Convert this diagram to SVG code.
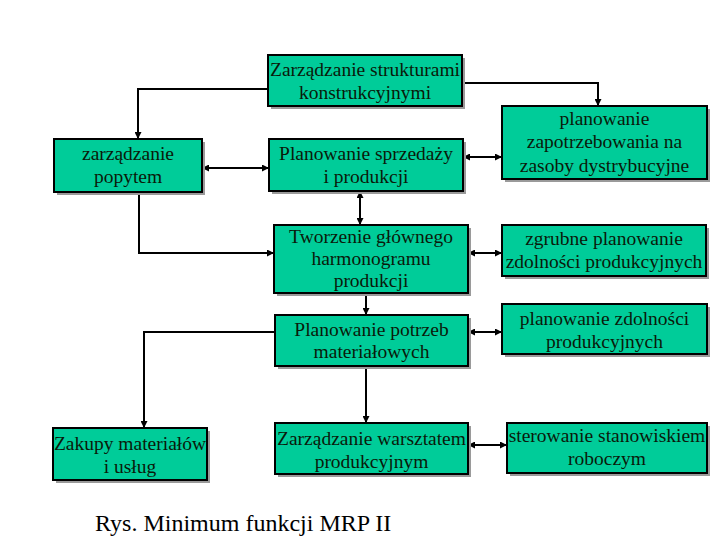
<svg xmlns="http://www.w3.org/2000/svg" width="720" height="540" viewBox="0 0 720 540">
<defs>
<marker id="ah" viewBox="0 0 10 10" refX="10" refY="5" markerWidth="3.5" markerHeight="3.5" orient="auto-start-reverse" markerUnits="strokeWidth">
<path d="M0,0 L10,5 L0,10 z" fill="#000"/>
</marker>
<filter id="sh" x="-10%" y="-10%" width="130%" height="130%">
<feOffset dx="0" dy="0"/>
</filter>
</defs>
<style>
.box{fill:#00cc99;stroke:#000;stroke-width:2}
.shd{fill:#9a9a9a}
.t{font-family:"Liberation Serif","Times New Roman",serif;font-size:19.5px;fill:#0a1a0a;text-anchor:middle}
.c{fill:none;stroke:#000;stroke-width:2}
.cap{font-family:"Liberation Serif","Times New Roman",serif;font-size:24px;fill:#000}
</style>
<rect width="720" height="540" fill="#fff"/>
<g id="connectors">
<polyline class="c" points="268,89 138,89 138,139" marker-end="url(#ah)"/>
<polyline class="c" points="462,83 598,83 598,106" marker-end="url(#ah)"/>
<line class="c" x1="202" y1="168" x2="269" y2="168" marker-start="url(#ah)" marker-end="url(#ah)"/>
<line class="c" x1="360" y1="191" x2="360" y2="225" marker-start="url(#ah)" marker-end="url(#ah)"/>
<polyline class="c" points="139,192 139,253 274,253" marker-end="url(#ah)"/>
<line class="c" x1="463" y1="157" x2="502" y2="157" marker-start="url(#ah)" marker-end="url(#ah)"/>
<line class="c" x1="468" y1="253" x2="502" y2="253" marker-start="url(#ah)" marker-end="url(#ah)"/>
<line class="c" x1="366" y1="293" x2="366" y2="315" marker-end="url(#ah)"/>
<line class="c" x1="468" y1="332" x2="502" y2="332" marker-start="url(#ah)" marker-end="url(#ah)"/>
<polyline class="c" points="275,332 144,332 144,428" marker-end="url(#ah)"/>
<line class="c" x1="366" y1="366" x2="366" y2="423" marker-end="url(#ah)"/>
<line class="c" x1="468" y1="445" x2="507" y2="445" marker-start="url(#ah)" marker-end="url(#ah)"/>
</g>
<g id="n_struktury">
<rect class="shd" x="271" y="58" width="194" height="51"/>
<rect class="box" x="268" y="55" width="194" height="51"/>
<text class="t" x="365" y="76">Zarządzanie strukturami</text>
<text class="t" x="365" y="99">konstrukcyjnymi</text>
</g>
<g id="n_popyt">
<rect class="shd" x="57" y="142" width="148" height="53"/>
<rect class="box" x="54" y="139" width="148" height="53"/>
<text class="t" x="128" y="160">zarządzanie</text>
<text class="t" x="128" y="183">popytem</text>
</g>
<g id="n_sprzedaz">
<rect class="shd" x="272" y="142" width="194" height="52"/>
<rect class="box" x="269" y="139" width="194" height="52"/>
<text class="t" x="366" y="160">Planowanie sprzedaży</text>
<text class="t" x="366" y="183">i produkcji</text>
</g>
<g id="n_dystr">
<rect class="shd" x="505" y="109" width="205" height="73"/>
<rect class="box" x="502" y="106" width="205" height="73"/>
<text class="t" x="604.5" y="125">planowanie</text>
<text class="t" x="604.5" y="148">zapotrzebowania na</text>
<text class="t" x="604.5" y="172">zasoby dystrybucyjne</text>
</g>
<g id="n_harmonogram">
<rect class="shd" x="277" y="228" width="194" height="68"/>
<rect class="box" x="274" y="225" width="194" height="68"/>
<text class="t" x="371" y="243">Tworzenie głównego</text>
<text class="t" x="371" y="265">harmonogramu</text>
<text class="t" x="371" y="287">produkcji</text>
</g>
<g id="n_zgrubne">
<rect class="shd" x="505" y="228" width="204" height="51"/>
<rect class="box" x="502" y="225" width="204" height="51"/>
<text class="t" x="604" y="245">zgrubne planowanie</text>
<text class="t" x="604" y="268">zdolności produkcyjnych</text>
</g>
<g id="n_mrp">
<rect class="shd" x="278" y="318" width="193" height="51"/>
<rect class="box" x="275" y="315" width="193" height="51"/>
<text class="t" x="371.5" y="336">Planowanie potrzeb</text>
<text class="t" x="371.5" y="358">materiałowych</text>
</g>
<g id="n_zdolnosci">
<rect class="shd" x="505" y="307" width="205" height="50"/>
<rect class="box" x="502" y="304" width="205" height="50"/>
<text class="t" x="604.5" y="325">planowanie zdolności</text>
<text class="t" x="604.5" y="348">produkcyjnych</text>
</g>
<g id="n_zakupy">
<rect class="shd" x="56" y="431" width="154" height="52"/>
<rect class="box" x="53" y="428" width="154" height="52"/>
<text class="t" x="130" y="450">Zakupy materiałów</text>
<text class="t" x="130" y="473">i usług</text>
</g>
<g id="n_warsztat">
<rect class="shd" x="278" y="426" width="193" height="51"/>
<rect class="box" x="275" y="423" width="193" height="51"/>
<text class="t" x="371.5" y="445">Zarządzanie warsztatem</text>
<text class="t" x="371.5" y="468">produkcyjnym</text>
</g>
<g id="n_sterowanie">
<rect class="shd" x="510" y="426" width="200" height="50"/>
<rect class="box" x="507" y="423" width="200" height="50"/>
<text class="t" x="607" y="442">sterowanie stanowiskiem</text>
<text class="t" x="607" y="465">roboczym</text>
</g>
<text class="cap" x="95" y="531">Rys. Minimum funkcji MRP II</text>
</svg>
